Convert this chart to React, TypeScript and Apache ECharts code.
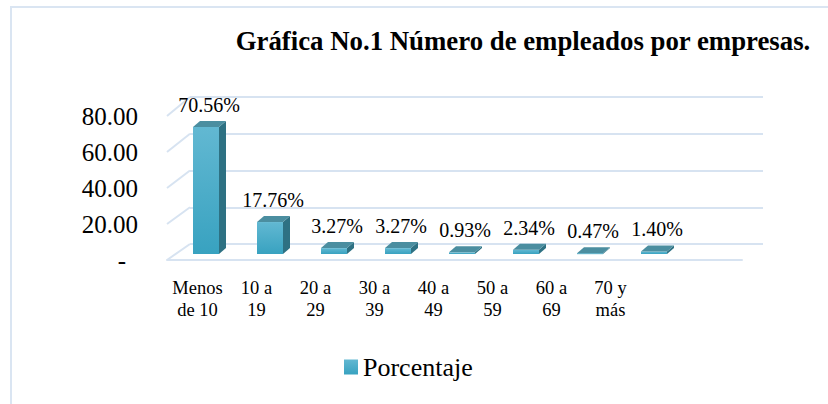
import React, { useEffect, useRef } from "react";
import * as echarts from "echarts";

const categories = ["Menos\nde 10", "10 a\n19", "20 a\n29", "30 a\n39", "40 a\n49", "50 a\n59", "60 a\n69", "70 y\nmás"];
const values = [70.56, 17.76, 3.27, 3.27, 0.93, 2.34, 0.47, 1.4];
const yTicks = [0, 20, 40, 60, 80];
const titleText = "Gráfica No.1 Número de empleados por empresas.";
const seriesName = "Porcentaje";

const FONT = "Liberation Serif";
const GRID_COLOR = "#d7e3f1";

export default function App() {
  const ref = useRef<HTMLDivElement>(null);
  useEffect(() => {
    if (!ref.current) return;
    const chart = echarts.init(ref.current, null, { renderer: "svg" });
    const frontLeft = 167;
    const backLeft = 190;
    const border = {
      type: "rect",
      silent: true,
      shape: { x: 11, y: 7, width: 840, height: 420 },
      style: { fill: "none", stroke: "#dae5f2", lineWidth: 2 },
    };
    const option: any = {
      animation: false,
      backgroundColor: "#ffffff",
      textStyle: { fontFamily: FONT },
      title: {
        text: titleText,
        left: 518,
        top: 22,
        textAlign: "center",
        textStyle: { fontFamily: FONT, fontWeight: "bold", fontSize: 26.8, color: "#000" },
      },
      legend: {
        data: [seriesName],
        left: 339,
        top: 349,
        itemWidth: 14,
        itemHeight: 15,
        icon: "rect",
        textStyle: { fontFamily: FONT, fontSize: 26, color: "#000" },
      },
      grid: [
        { left: backLeft, right: 828 - 763, top: 97, height: 147 },
        { left: frontLeft, right: 828 - 742, top: 116, height: 144 },
        { left: 174, width: 512, top: 110, height: 144 },
        { left: 168, width: 472, top: 200, height: 60 },
      ],
      xAxis: [
        { gridIndex: 0, type: "category", data: categories, show: false },
        {
          gridIndex: 1,
          type: "category",
          data: categories,
          axisLine: { show: true, lineStyle: { color: GRID_COLOR, width: 2 } },
          axisTick: { show: false },
          axisLabel: { show: false },
        },
        { gridIndex: 2, type: "category", data: categories, show: false },
        {
          gridIndex: 3,
          type: "category",
          data: categories,
          axisLine: { show: false },
          axisTick: { show: false },
          axisLabel: {
            margin: 17,
            fontFamily: FONT,
            fontSize: 18.5,
            lineHeight: 22,
            color: "#000",
            interval: 0,
            align: "center",
          },
        },
      ],
      yAxis: [
        {
          gridIndex: 0,
          type: "value",
          min: 0,
          max: 80,
          interval: 20,
          axisLine: { show: false },
          axisTick: { show: false },
          axisLabel: { show: false },
          splitLine: { show: true, lineStyle: { color: GRID_COLOR, width: 2 } },
        },
        {
          gridIndex: 1,
          type: "value",
          min: 0,
          max: 80,
          interval: 20,
          axisLine: { show: false },
          axisTick: { show: false },
          splitLine: { show: false },
          axisLabel: {
            margin: 29,
            fontFamily: FONT,
            fontSize: 25,
            color: "#000",
            formatter: (v: number) => (v === 0 ? "{d|-}" : v.toFixed(2)),
            rich: { d: { fontFamily: FONT, fontSize: 25, color: "#000", padding: [0, 12, 0, 0] } },
          },
        },
        { gridIndex: 2, type: "value", min: 0, max: 80, show: false, splitLine: { show: false } },
        { gridIndex: 3, type: "value", show: false, splitLine: { show: false } },
      ],
      series: [
        {
          name: seriesName,
          type: "custom",
          xAxisIndex: 2,
          yAxisIndex: 2,
          itemStyle: {
            color: new echarts.graphic.LinearGradient(0, 0, 0, 1, [
              { offset: 0, color: "#62b8d2" },
              { offset: 1, color: "#38a2c0" },
            ]),
          },
          data: values.map((v, i) => [i, v]),
          renderItem: (params: any, api: any) => {
            const idx = api.value(0);
            const v = api.value(1);
            const top = api.coord([idx, v]);
            const base = api.coord([idx, 0]);
            const w = 26;
            const dx = 7;
            const dy = 6;
            const x0 = top[0] - w / 2;
            const x1 = top[0] + w / 2;
            const yt = top[1];
            const yb = base[1];
            return {
              type: "group",
              children: [
                {
                  type: "polygon",
                  shape: { points: [[x1, yt], [x1 + dx, yt - dy], [x1 + dx, yb - dy], [x1, yb]] },
                  style: { fill: "#2e7183" },
                },
                {
                  type: "rect",
                  shape: { x: x0, y: yt, width: w, height: Math.max(yb - yt, 1) },
                  style: {
                    fill: new echarts.graphic.LinearGradient(0, 0, 0, 1, [
                      { offset: 0, color: "#62b8d2" },
                      { offset: 1, color: "#38a2c0" },
                    ]),
                  },
                },
                {
                  type: "polygon",
                  shape: { points: [[x0, yt], [x0 + dx, yt - dy], [x1 + dx, yt - dy], [x1, yt]] },
                  style: { fill: "#4b8ea0" },
                },
                {
                  type: "text",
                  style: {
                    text: v.toFixed(2) + "%",
                    x: top[0] + 3,
                    y: yt - 12,
                    align: "center",
                    verticalAlign: "bottom",
                    fontFamily: FONT,
                    fontSize: 20,
                    fill: "#000",
                  },
                },
              ],
            };
          },
        },
      ],
      graphic: [border],
    };
    chart.setOption(option);
    const diag = yTicks.map((t) => {
      const yf = chart.convertToPixel({ yAxisIndex: 1 }, t) as number;
      const yb = chart.convertToPixel({ yAxisIndex: 0 }, t) as number;
      return {
        type: "line",
        silent: true,
        shape: { x1: frontLeft, y1: yf, x2: backLeft, y2: yb },
        style: { stroke: GRID_COLOR, lineWidth: 2 },
      };
    });
    chart.setOption({ graphic: [border, ...diag] });
    return () => chart.dispose();
  }, []);
  return (
    <div
      ref={ref}
      style={{ position: "absolute", left: 0, top: 0, width: 828, height: 404 }}
    />
  );
}
